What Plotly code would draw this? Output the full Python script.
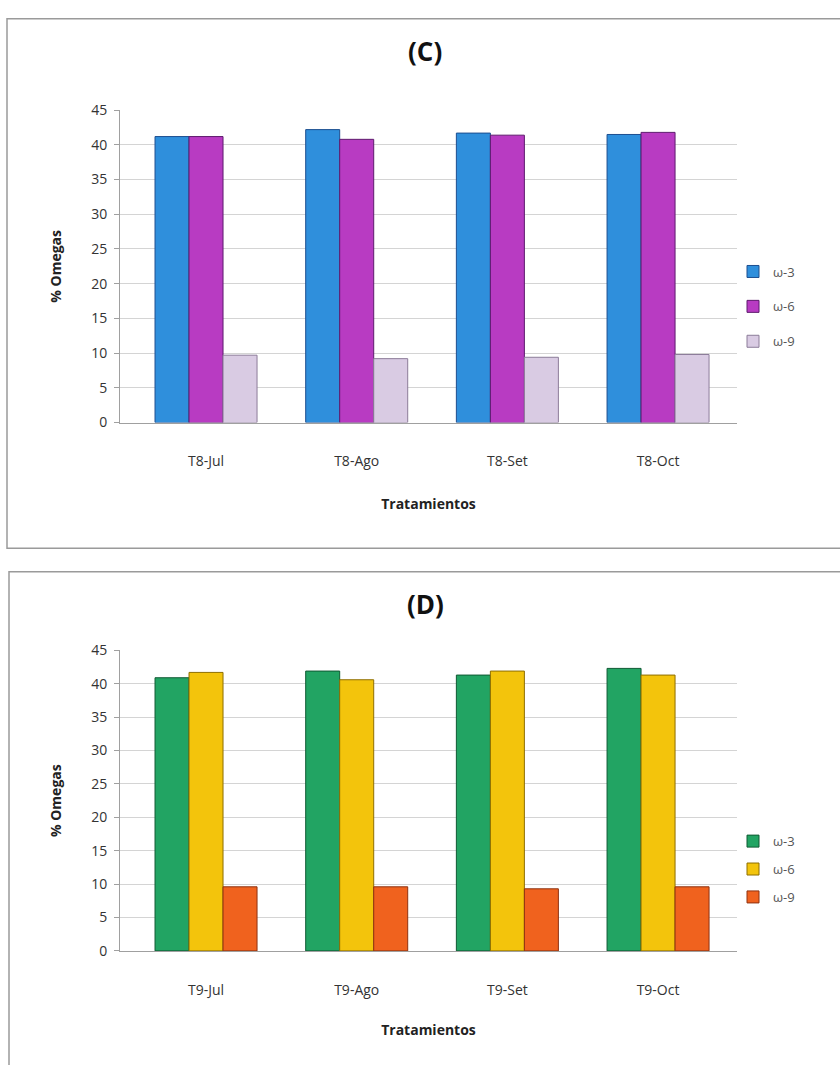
import plotly.graph_objects as go

cats_c = ["T8-Jul", "T8-Ago", "T8-Set", "T8-Oct"]
cats_d = ["T9-Jul", "T9-Ago", "T9-Set", "T9-Oct"]
series_names = ["ω-3", "ω-6", "ω-9"]
c_w3 = [41.2, 42.2, 41.7, 41.5]
c_w6 = [41.2, 40.8, 41.4, 41.8]
c_w9 = [9.7, 9.2, 9.4, 9.8]
d_w3 = [40.9, 41.9, 41.3, 42.3]
d_w6 = [41.7, 40.6, 41.9, 41.3]
d_w9 = [9.6, 9.6, 9.3, 9.6]
y_ticks = [0, 5, 10, 15, 20, 25, 30, 35, 40, 45]

colors_c = ["#2F8FDC", "#B83BC2", "#D9CBE3"]
edges_c = ["#1D4E8F", "#5E1B6E", "#8C7C99"]
colors_d = ["#22A463", "#F3C40C", "#F0621E"]
edges_d = ["#0F5A33", "#8E6E00", "#8E3210"]

W, H = 840, 1065
def py(p):
    return 1 - p / H

fig = go.Figure()

for name, vals, col, ec in zip(series_names, [c_w3, c_w6, c_w9], colors_c, edges_c):
    fig.add_trace(go.Bar(x=cats_c, y=vals, name=name, marker=dict(color=col, line=dict(color=ec, width=1)),
                         xaxis="x", yaxis="y", legend="legend", legendgroup="c" + name))
for name, vals, col, ec in zip(series_names, [d_w3, d_w6, d_w9], colors_d, edges_d):
    fig.add_trace(go.Bar(x=cats_d, y=vals, name=name, marker=dict(color=col, line=dict(color=ec, width=1)),
                         xaxis="x2", yaxis="y2", legend="legend2", legendgroup="d" + name))

tickfont = dict(family="Open Sans, Liberation Sans", size=14, color="#333333")
titlefont = dict(family="Open Sans, Liberation Sans", size=14, color="#222222", weight="bold")

xdom = [120 / W, 737 / W]
common_x = dict(showgrid=False, showline=True, linecolor="#A0A0A0", linewidth=1, ticks="",
                range=[-0.571, 3.524],
                tickfont=tickfont, ticklabelstandoff=26)
common_y = dict(range=[0, 45], tickvals=y_ticks, showgrid=True, gridcolor="#D4D4D4", gridwidth=1,
                showline=True, linecolor="#A0A0A0", ticks="outside", ticklen=5, tickcolor="#A0A0A0",
                tickfont=tickfont, ticklabelstandoff=4, zeroline=False)

fig.update_layout(
    width=W, height=H, margin=dict(l=0, r=0, t=0, b=0),
    paper_bgcolor="white", plot_bgcolor="white",
    barmode="group", bargap=0.323, bargroupgap=0,
    xaxis=dict(domain=xdom, anchor="y", title=dict(text="Tratamientos", font=titlefont, standoff=29), **common_x),
    yaxis=dict(domain=[py(420), py(102)], anchor="x", title=dict(text="% Omegas", font=titlefont, standoff=26), **common_y),
    xaxis2=dict(domain=xdom, anchor="y2", title=dict(text="Tratamientos", font=titlefont, standoff=27), **common_x),
    yaxis2=dict(domain=[py(958), py(652)], anchor="x2", title=dict(text="% Omegas", font=titlefont, standoff=26), **common_y),
    legend=dict(x=733 / W, y=py(251), xanchor="left", yanchor="top", tracegroupgap=15,
                font=dict(family="Open Sans, Liberation Sans", size=13, color="#555555"),
                itemwidth=30, bgcolor="rgba(0,0,0,0)"),
    legend2=dict(x=733 / W, y=py(831), xanchor="left", yanchor="top", tracegroupgap=8,
                 font=dict(family="Open Sans, Liberation Sans", size=13, color="#555555"),
                 itemwidth=30, bgcolor="rgba(0,0,0,0)"),
    annotations=[
        dict(text="<b>(C)</b>", x=425 / W, y=py(42), xref="paper", yref="paper", showarrow=False,
             yanchor="middle", font=dict(family="Open Sans, Liberation Sans", size=26, color="#111111")),
        dict(text="<b>(D)</b>", x=425 / W, y=py(605), xref="paper", yref="paper", showarrow=False,
             yanchor="middle", font=dict(family="Open Sans, Liberation Sans", size=26, color="#111111")),
    ],
    shapes=[
        dict(type="rect", xref="paper", yref="paper", x0=7 / W, x1=1.02, y0=py(548), y1=py(9),
             line=dict(color="#9A9A9A", width=1.5)),
        dict(type="rect", xref="paper", yref="paper", x0=9 / W, x1=1.02, y0=-0.02, y1=py(572),
             line=dict(color="#9A9A9A", width=1.5)),
    ],
)

fig.write_html("out.html")
